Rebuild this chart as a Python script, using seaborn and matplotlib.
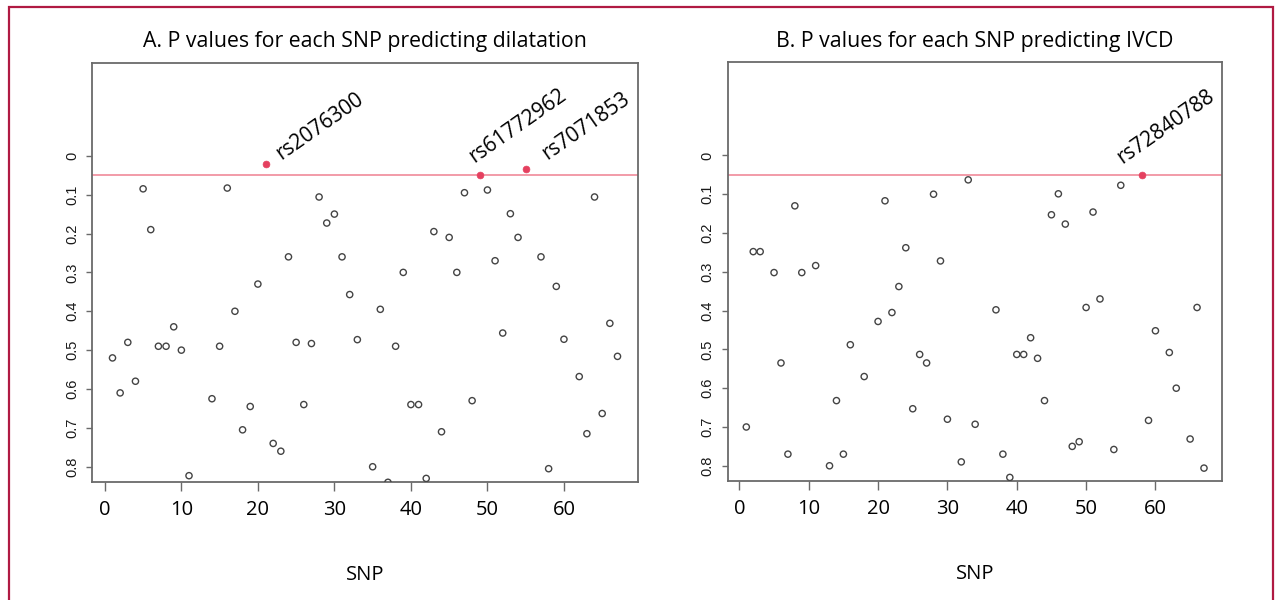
import numpy as np
import pandas as pd
import matplotlib
matplotlib.use("Agg")
import matplotlib.pyplot as plt
import seaborn as sns
from matplotlib.patches import Rectangle

# ---------------- data ----------------
# Panel A: dilatation
snp_a = [1, 2, 3, 4, 5, 6, 7, 8, 9, 10, 11, 14, 15, 16, 17, 18, 19, 20, 22, 23,
         24, 25, 26, 27, 28, 29, 30, 31, 32, 33, 35, 36, 37, 38, 39, 40, 41, 42,
         43, 44, 45, 46, 47, 48, 50, 51, 52, 53, 54, 57, 58, 59, 60, 62, 63, 64,
         65, 66, 67]
p_a = [0.52, 0.61, 0.48, 0.58, 0.085, 0.19, 0.49, 0.49, 0.44, 0.50, 0.823, 0.625,
       0.49, 0.083, 0.40, 0.705, 0.645, 0.33, 0.74, 0.76, 0.26, 0.48, 0.64, 0.483,
       0.106, 0.173, 0.15, 0.26, 0.357, 0.473, 0.80, 0.395, 0.84, 0.49, 0.30, 0.64,
       0.64, 0.83, 0.195, 0.71, 0.21, 0.30, 0.095, 0.63, 0.088, 0.27, 0.456, 0.149,
       0.21, 0.26, 0.805, 0.336, 0.472, 0.568, 0.715, 0.106, 0.663, 0.431, 0.516]
sig_snp_a = [21, 49, 55]
sig_p_a = [0.021, 0.050, 0.033]
sig_names_a = ["rs2076300", "rs61772962", "rs7071853"]

# Panel B: IVCD
snp_b = [1, 2, 3, 5, 6, 7, 8, 9, 11, 13, 14, 15, 16, 18, 20, 21, 22, 23, 24, 25,
         26, 27, 28, 29, 30, 32, 33, 34, 37, 38, 39, 40, 41, 42, 43, 44, 45, 46,
         47, 48, 49, 50, 51, 52, 54, 55, 59, 60, 62, 63, 65, 66, 67]
p_b = [0.70, 0.248, 0.248, 0.302, 0.535, 0.77, 0.13, 0.302, 0.284, 0.80, 0.632,
       0.77, 0.488, 0.57, 0.428, 0.117, 0.405, 0.338, 0.238, 0.653, 0.513, 0.535,
       0.10, 0.272, 0.68, 0.79, 0.063, 0.693, 0.398, 0.77, 0.83, 0.513, 0.513,
       0.47, 0.523, 0.632, 0.153, 0.099, 0.177, 0.75, 0.738, 0.392, 0.146, 0.37,
       0.758, 0.077, 0.683, 0.452, 0.508, 0.60, 0.731, 0.392, 0.806]
sig_snp_b = [58]
sig_p_b = [0.051]
sig_names_b = ["rs72840788"]

threshold = 0.05
y_ticks = [0, 0.1, 0.2, 0.3, 0.4, 0.5, 0.6, 0.7, 0.8]
y_ticklabels = ["0", "0.1", "0.2", "0.3", "0.4", "0.5", "0.6", "0.7", "0.8"]
x_ticks = [0, 10, 20, 30, 40, 50, 60]
titles = ["A. P values for each SNP predicting dilatation",
          "B. P values for each SNP predicting IVCD"]
x_label = "SNP"

# label offsets in points (style, not data)
offsets_a = [(11, 3), (-4, 8.5), (15.5, 6)]
offsets_b = [(-14, 8)]

# ---------------- style ----------------
sns.set_style("white")
plt.rcParams["font.family"] = ["Open Sans", "DejaVu Sans"]
plt.rcParams["text.color"] = "black"
plt.rcParams["xtick.labelcolor"] = "black"

W, H = 1276, 600
fig = plt.figure(figsize=(W / 100, H / 100), dpi=100)

def px_axes(x0, x1, ytop, ybot):
    return fig.add_axes([x0 / W, 1 - ybot / H, (x1 - x0) / W, (ybot - ytop) / H])

ax_a = px_axes(92.3, 637.7, 62.5, 482.3)
ax_b = px_axes(728.0, 1222.3, 62.3, 481.3)

point_col = "#444444"
sig_col = "#e5405f"
line_col = "#f08a9a"
spine_col = "#6a6a6a"
fam = ["Open Sans", "DejaVu Sans"]

panels = [
    (ax_a, snp_a, p_a, sig_snp_a, sig_p_a, sig_names_a, offsets_a, titles[0]),
    (ax_b, snp_b, p_b, sig_snp_b, sig_p_b, sig_names_b, offsets_b, titles[1]),
]

for ax, sx, sp, hx, hp, names, offs, title in panels:
    ax.set_facecolor("white")
    df = pd.DataFrame({"snp": sx, "p": sp})
    sns.scatterplot(data=df, x="snp", y="p", ax=ax, marker="o", s=20,
                    facecolor="none", edgecolor=point_col, linewidth=1.0,
                    legend=False, zorder=3)
    ax.axhline(threshold, color=line_col, lw=1.2, zorder=2)
    dh = pd.DataFrame({"snp": hx, "p": hp})
    sns.scatterplot(data=dh, x="snp", y="p", ax=ax, marker="o", s=24,
                    color=sig_col, edgecolor=sig_col, linewidth=0.5,
                    legend=False, zorder=4)
    for xv, yv, name, (dx, dy) in zip(hx, hp, names, offs):
        ax.annotate(name, xy=(xv, yv), xytext=(dx, dy), textcoords="offset points",
                    rotation=35, rotation_mode="anchor", ha="left", va="baseline",
                    fontsize=15, color="black", family=fam,
                    annotation_clip=False, zorder=5)

    ax.set_xlim(-1.64, 69.64)
    ax.set_ylim(0.84, -0.24)
    ax.set_xticks(x_ticks)
    ax.set_xticklabels([str(t) for t in x_ticks], fontsize=14.5, family=fam,
                       color="black")
    ax.set_yticks(y_ticks)
    ax.set_yticklabels(y_ticklabels, rotation=90, va="center", fontsize=10.5,
                       family=["Liberation Sans", "DejaVu Sans"], color="#1a1a1a")
    ax.tick_params(axis="x", direction="out", length=6.5, width=1.0,
                   color=spine_col, pad=6, bottom=True)
    ax.tick_params(axis="y", direction="out", length=4, width=1.0,
                   color=spine_col, pad=5.5, left=True)
    for s in ax.spines.values():
        s.set_color(spine_col)
        s.set_linewidth(1.3)
        s.set_visible(True)
    ax.set_xlabel(x_label, fontsize=14.5, labelpad=33, family=fam, color="black")
    ax.set_ylabel("")
    ax.set_title(title, fontsize=15.3, pad=11, family=fam, color="black")

# red outer frame
frame = Rectangle((9.3 / W, -0.05), (1273 - 9.3) / W, 1.05 - 6.7 / H,
                  transform=fig.transFigure, fill=False, edgecolor="#b01a42",
                  linewidth=1.6, zorder=10)
fig.patches.append(frame)

fig.savefig("out.png", dpi=100, facecolor="white")
